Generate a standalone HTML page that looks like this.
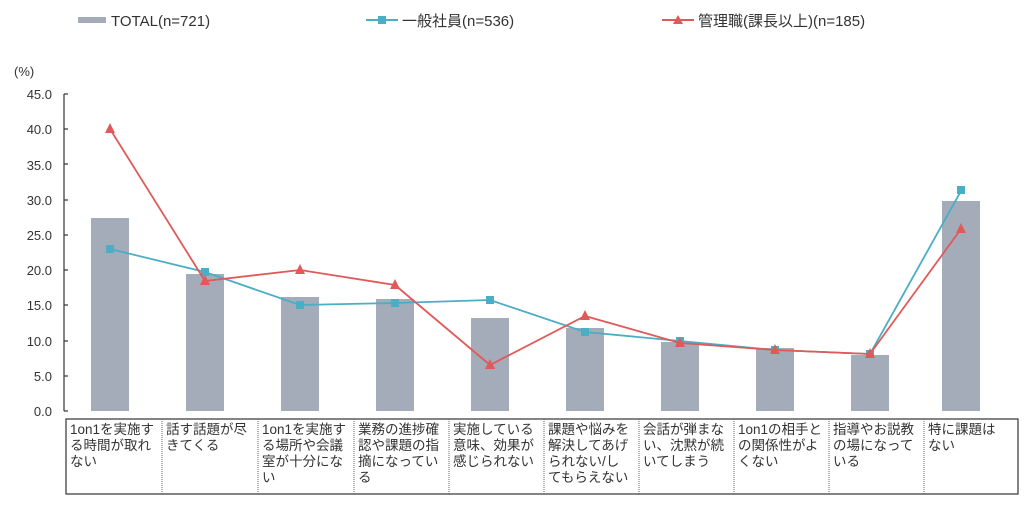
<!DOCTYPE html>
<html><head><meta charset="utf-8"><style>
body{margin:0;background:#fff;}
svg{display:block;font-family:"Liberation Sans","Noto Sans CJK JP",sans-serif;}
</style></head><body>
<svg width="1024" height="511" viewBox="0 0 1024 511">
<rect x="78" y="17" width="28" height="6" fill="#a3acb8"/>
<text x="111" y="26" font-size="15" fill="#333">TOTAL(n=721)</text>
<line x1="366" y1="20" x2="398" y2="20" stroke="#4aaec4" stroke-width="2"/>
<rect x="378" y="16" width="8" height="8" fill="#4aaec4"/>
<text x="402" y="26" font-size="15" fill="#333">一般社員(n=536)</text>
<line x1="662" y1="20" x2="694" y2="20" stroke="#e05a5a" stroke-width="2"/>
<polygon points="678,15 683,24 673,24" fill="#e05a5a"/>
<text x="698" y="26" font-size="15" fill="#333">管理職(課長以上)(n=185)</text>
<text x="14" y="76" font-size="13" fill="#333">(%)</text>
<g font-size="13" fill="#333" text-anchor="end">
<text x="52" y="99">45.0</text><text x="52" y="134">40.0</text><text x="52" y="170">35.0</text>
<text x="52" y="205">30.0</text><text x="52" y="240">25.0</text><text x="52" y="275">20.0</text>
<text x="52" y="310">15.0</text><text x="52" y="346">10.0</text><text x="52" y="381">5.0</text>
<text x="52" y="416">0.0</text>
</g>
<line x1="64" y1="94" x2="64" y2="411" stroke="#333" stroke-width="1.2"/>
<g stroke="#333" stroke-width="1.2">
<line x1="64" y1="94" x2="68" y2="94"/><line x1="64" y1="129" x2="68" y2="129"/><line x1="64" y1="164" x2="68" y2="164"/>
<line x1="64" y1="200" x2="68" y2="200"/><line x1="64" y1="235" x2="68" y2="235"/><line x1="64" y1="270" x2="68" y2="270"/>
<line x1="64" y1="305" x2="68" y2="305"/><line x1="64" y1="341" x2="68" y2="341"/><line x1="64" y1="376" x2="68" y2="376"/>
<line x1="64" y1="411" x2="68" y2="411"/>
</g>
<g fill="#a3acb8">
<rect x="91" y="218" width="38" height="193"/>
<rect x="186" y="274" width="38" height="137"/>
<rect x="281" y="297" width="38" height="114"/>
<rect x="376" y="299" width="38" height="112"/>
<rect x="471" y="318" width="38" height="93"/>
<rect x="566" y="328" width="38" height="83"/>
<rect x="661" y="342" width="38" height="69"/>
<rect x="756" y="348" width="38" height="63"/>
<rect x="851" y="355" width="38" height="56"/>
<rect x="942" y="201" width="38" height="210"/>
</g>
<polyline fill="none" stroke="#4aaec4" stroke-width="1.8" points="110,249 205,272 300,305 395,303 490,300 585,332 680,341 775,350 870,354 961,191"/>
<g fill="#4aaec4">
<rect x="106" y="245" width="8" height="8"/><rect x="201" y="268" width="8" height="8"/><rect x="296" y="301" width="8" height="8"/>
<rect x="391" y="299" width="8" height="8"/><rect x="486" y="296" width="8" height="8"/><rect x="581" y="328" width="8" height="8"/>
<rect x="676" y="337" width="8" height="8"/><rect x="771" y="346" width="8" height="8"/><rect x="866" y="350" width="8" height="8"/>
<rect x="957" y="186" width="8" height="8"/>
</g>
<polyline fill="none" stroke="#e05a5a" stroke-width="1.8" points="110,129 205,281 300,270 395,285 490,365 585,316 680,343 775,350 870,354 961,229"/>
<g fill="#e05a5a">
<polygon points="110,123 115,133 105,133"/><polygon points="205,275 210,285 200,285"/><polygon points="300,264 305,274 295,274"/>
<polygon points="395,279 400,289 390,289"/><polygon points="490,359 495,369 485,369"/><polygon points="585,310 590,320 580,320"/>
<polygon points="680,337 685,347 675,347"/><polygon points="775,344 780,354 770,354"/><polygon points="870,348 875,358 865,358"/>
<polygon points="961,223 966,233 956,233"/>
</g>
<rect x="66" y="419" width="952" height="75" fill="none" stroke="#333" stroke-width="1.2"/>
<g stroke="#666" stroke-width="1" stroke-dasharray="1,1">
<line x1="162" y1="419" x2="162" y2="494"/><line x1="258" y1="419" x2="258" y2="494"/><line x1="354" y1="419" x2="354" y2="494"/>
<line x1="449" y1="419" x2="449" y2="494"/><line x1="544" y1="419" x2="544" y2="494"/><line x1="639" y1="419" x2="639" y2="494"/>
<line x1="734" y1="419" x2="734" y2="494"/><line x1="829" y1="419" x2="829" y2="494"/><line x1="924" y1="419" x2="924" y2="494"/>
</g>
<g font-size="13.5" fill="#333">
<text x="70" y="434">1on1を実施す</text><text x="70" y="450">る時間が取れ</text><text x="70" y="466">ない</text>
<text x="166" y="434">話す話題が尽</text><text x="166" y="450">きてくる</text>
<text x="262" y="434">1on1を実施す</text><text x="262" y="450">る場所や会議</text><text x="262" y="466">室が十分にな</text><text x="262" y="482">い</text>
<text x="358" y="434">業務の進捗確</text><text x="358" y="450">認や課題の指</text><text x="358" y="466">摘になってい</text><text x="358" y="482">る</text>
<text x="453" y="434">実施している</text><text x="453" y="450">意味、効果が</text><text x="453" y="466">感じられない</text>
<text x="548" y="434">課題や悩みを</text><text x="548" y="450">解決してあげ</text><text x="548" y="466">られない/し</text><text x="548" y="482">てもらえない</text>
<text x="643" y="434">会話が弾まな</text><text x="643" y="450">い、沈黙が続</text><text x="643" y="466">いてしまう</text>
<text x="738" y="434">1on1の相手と</text><text x="738" y="450">の関係性がよ</text><text x="738" y="466">くない</text>
<text x="833" y="434">指導やお説教</text><text x="833" y="450">の場になって</text><text x="833" y="466">いる</text>
<text x="928" y="434">特に課題は</text><text x="928" y="450">ない</text>
</g>
</svg>
</body></html>
